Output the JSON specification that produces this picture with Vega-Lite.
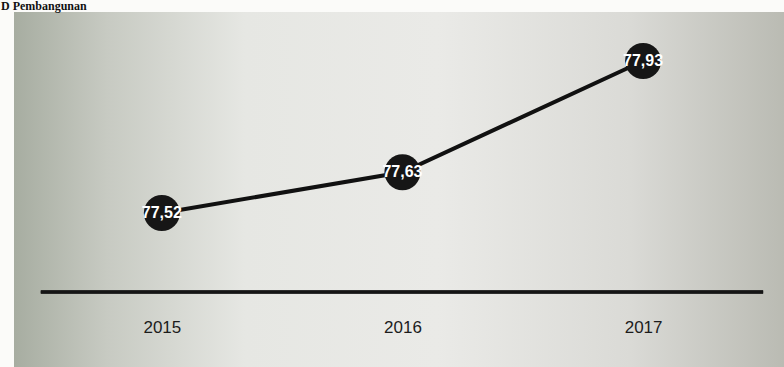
{
  "$schema": "https://vega.github.io/schema/vega-lite/v6.json",
  "width": 770,
  "height": 355,
  "autosize": "none",
  "padding": {"left": 14, "top": 12, "right": 0, "bottom": 0},
  "background": "#fbfbf9",
  "title": {
    "text": "D Pembangunan",
    "anchor": "start",
    "dx": -13,
    "offset": -13,
    "baseline": "bottom",
    "font": "Liberation Serif",
    "fontSize": 12,
    "fontWeight": "bold",
    "color": "#111111"
  },
  "config": {
    "view": {
      "stroke": null,
      "fill": {
        "gradient": "linear",
        "x1": 0, "y1": 0, "x2": 1, "y2": 0,
        "stops": [
          {"offset": 0, "color": "#a7ada1"},
          {"offset": 0.12, "color": "#c7cac2"},
          {"offset": 0.3, "color": "#e6e7e3"},
          {"offset": 0.55, "color": "#eaeae7"},
          {"offset": 0.8, "color": "#dadad6"},
          {"offset": 1, "color": "#babbb3"}
        ]
      }
    }
  },
  "data": {
    "values": [
      {"year": "2015", "value": 77.52, "label": "77,52"},
      {"year": "2016", "value": 77.63, "label": "77,63"},
      {"year": "2017", "value": 77.93, "label": "77,93"}
    ]
  },
  "encoding": {
    "x": {
      "field": "year",
      "type": "ordinal",
      "scale": {"type": "point", "padding": 0.6, "align": 0.512},
      "axis": {
        "title": null,
        "orient": "bottom",
        "offset": -75,
        "domain": false,
        "ticks": false,
        "grid": false,
        "labelAngle": 0,
        "labelPadding": 27,
        "labelFont": "Liberation Sans",
        "labelFontSize": 17,
        "labelColor": "#1c1c1c"
      }
    },
    "y": {
      "field": "value",
      "type": "quantitative",
      "scale": {"domain": [77.1046, 78.0622], "zero": false, "nice": false},
      "axis": null
    }
  },
  "layer": [
    {
      "mark": {"type": "rule", "color": "#151515", "strokeWidth": 3, "xOffset": -121, "x2Offset": 120},
      "encoding": {
        "x": {"datum": "2015"},
        "x2": {"datum": "2017"},
        "y": {"datum": 77.307}
      }
    },
    {
      "mark": {"type": "line", "color": "#111111", "strokeWidth": 4}
    },
    {
      "mark": {"type": "circle", "size": 1300, "color": "#161616", "opacity": 1}
    },
    {
      "mark": {"type": "text", "color": "#ffffff", "font": "Liberation Sans", "fontWeight": "bold", "fontSize": 16, "align": "center", "baseline": "middle"},
      "encoding": {"text": {"field": "label"}}
    }
  ]
}
